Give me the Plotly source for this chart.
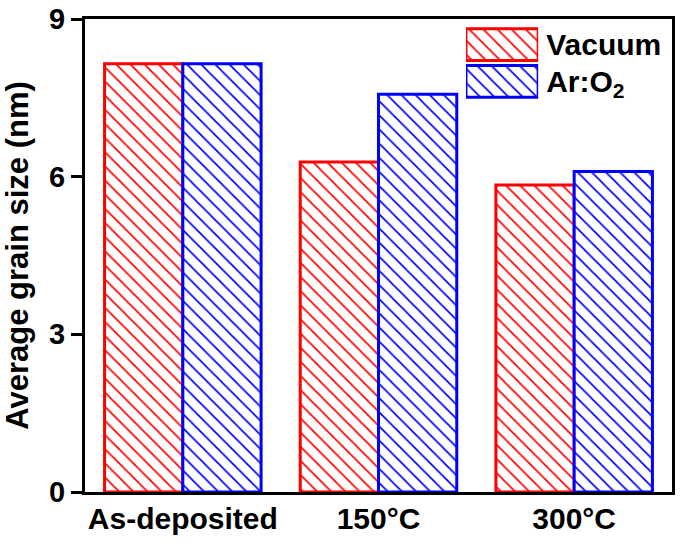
import plotly.graph_objects as go

categories = ["As-deposited", "150°C", "300°C"]
vacuum = [8.15, 6.28, 5.84]
ar_o2 = [8.15, 7.57, 6.10]

legend_keys = ["Ar:O2", "Vacuum"]
legend_text = ["Ar:O<sub>2</sub>", "Vacuum"]
legend_colors = ["#0000ff", "#ff0000"]

font = "Liberation Sans, Arial, sans-serif"


def hatched(color):
    return dict(
        color="white",
        line=dict(color=color, width=3),
        pattern=dict(shape="\\", fgcolor=color, fgopacity=1, size=10,
                     solidity=0.17, fillmode="overlay"),
    )


fig = go.Figure()
fig.add_trace(go.Bar(x=categories, y=vacuum, name="Vacuum", marker=hatched("#ff0000")))
fig.add_trace(go.Bar(x=categories, y=ar_o2, name="Ar:O2", marker=hatched("#0000ff")))

# legend swatches drawn as a tiny inset bar chart
fig.add_trace(go.Bar(
    x=[1, 1], y=legend_keys, orientation="h", width=0.86,
    xaxis="x2", yaxis="y2", showlegend=False, hoverinfo="skip",
    marker=dict(
        color="white",
        line=dict(color=legend_colors, width=3),
        pattern=dict(shape="\\", fgcolor=legend_colors, fgopacity=1, size=10,
                     solidity=0.17, fillmode="overlay"),
    ),
))

fig.update_layout(
    width=685, height=551,
    margin=dict(l=85, r=13, t=19, b=59),
    paper_bgcolor="white", plot_bgcolor="white",
    barmode="group", bargap=0.2, bargroupgap=0,
    showlegend=False,
    font=dict(family=font, color="black", size=30),
    xaxis=dict(
        range=[-0.5, 2.5], showline=True, linecolor="black", linewidth=3,
        mirror=True, ticks="", automargin=False, ticklabelstandoff=-2,
        tickfont=dict(size=30, family=font, weight="bold"),
    ),
    yaxis=dict(
        range=[0, 9], tickvals=[0, 3, 6, 9], showline=True, linecolor="black",
        linewidth=3, mirror=True, ticks="outside", ticklen=11, tickwidth=3,
        tickcolor="black", showgrid=False, zeroline=False, automargin=False,
        tickfont=dict(size=29, family=font, weight="bold"),
        title=dict(text="Average grain size (nm)", standoff=16,
                   font=dict(size=31, family=font, weight="bold")),
    ),
    xaxis2=dict(domain=[0.649, 0.772], anchor="y2", range=[0, 1], visible=False),
    yaxis2=dict(
        domain=[0.829, 0.985], anchor="x2", side="right", automargin=False,
        categoryorder="array", categoryarray=legend_keys,
        tickvals=legend_keys, ticktext=legend_text,
        showline=False, showgrid=False, ticks="", ticklabelstandoff=7,
        tickfont=dict(size=30, family=font, weight="bold"),
    ),
)

fig.write_html(
    "out.html",
    config={"displayModeBar": False, "responsive": False},
    default_width="685px", default_height="551px",
    post_script=(
        "document.body.style.margin='0';document.body.style.overflow='hidden';"
        "var gd=document.getElementsByClassName('plotly-graph-div')[0];"
        "Plotly.relayout(gd,{width:685,height:551});"
    ),
)
